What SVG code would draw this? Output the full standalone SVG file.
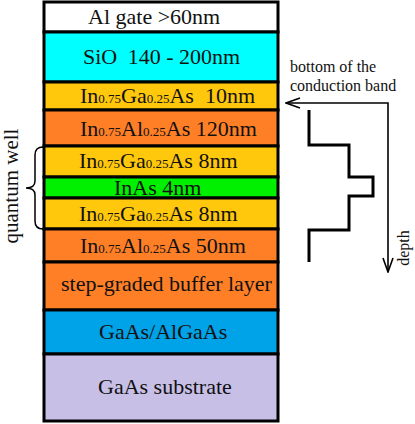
<svg xmlns="http://www.w3.org/2000/svg" width="415" height="424" viewBox="0 0 415 424">
<style>
.l{stroke:#000;stroke-width:3}
.t{font-family:"Liberation Serif","Times New Roman",serif;font-size:22px;fill:#111}
.s{font-size:13px}
.n{font-family:"Liberation Serif","Times New Roman",serif;font-size:16px;fill:#111}
.c{fill:none;stroke:#000}
</style>
<defs>
<marker id="ah" markerUnits="userSpaceOnUse" markerWidth="16" markerHeight="12" viewBox="0 0 16 12" refX="15" refY="6" orient="auto-start-reverse">
<path d="M1,1 L15,6 L1,11" fill="none" stroke="#000" stroke-width="1.6"/>
</marker>
</defs>
<rect width="415" height="424" fill="#fff"/>
<g id="al-gate"><rect class="l" x="44" y="2" width="234" height="30" fill="#fff"/><text class="t" x="88" y="24">Al gate &gt;60nm</text></g>
<g id="sio"><rect class="l" x="44" y="32" width="234" height="50" fill="#00FFFF"/><text class="t" x="83" y="64">SiO<tspan dx="5"> 140 - 200nm</tspan></text></g>
<g id="ingaas-10"><rect class="l" x="44" y="82" width="234" height="28" fill="#FFC80C"/><text class="t" x="80" y="103">In<tspan class="s">0.75</tspan>Ga<tspan class="s">0.25</tspan>As<tspan dx="5.5"> 10nm</tspan></text></g>
<g id="inalas-120"><rect class="l" x="44" y="110" width="234" height="36" fill="#FF7F27"/><text class="t" x="80" y="136">In<tspan class="s">0.75</tspan>Al<tspan class="s">0.25</tspan>As 120nm</text></g>
<g id="ingaas-8a"><rect class="l" x="44" y="146" width="234" height="31" fill="#FFC80C"/><text class="t" x="79" y="168">In<tspan class="s">0.75</tspan>Ga<tspan class="s">0.25</tspan>As 8nm</text></g>
<g id="inas"><rect class="l" x="44" y="177" width="234" height="21" fill="#00F000"/><text class="t" x="114" y="194.5">InAs 4nm</text></g>
<g id="ingaas-8b"><rect class="l" x="44" y="198" width="234" height="31" fill="#FFC80C"/><text class="t" x="79" y="220.5">In<tspan class="s">0.75</tspan>Ga<tspan class="s">0.25</tspan>As 8nm</text></g>
<g id="inalas-50"><rect class="l" x="44" y="229" width="234" height="33" fill="#FF7F27"/><text class="t" x="80" y="252.5">In<tspan class="s">0.75</tspan>Al<tspan class="s">0.25</tspan>As 50nm</text></g>
<g id="buffer"><rect class="l" x="44" y="262" width="234" height="48" fill="#FF7F27"/><text class="t" x="61" y="291">step-graded buffer layer</text></g>
<g id="gaas-algaas"><rect class="l" x="44" y="310" width="234" height="44" fill="#00A2E8"/><text class="t" x="99" y="339">GaAs/AlGaAs</text></g>
<g id="substrate"><rect class="l" x="44" y="354" width="234" height="67" fill="#C8BFE7"/><text class="t" x="98" y="394">GaAs substrate</text></g>
<g id="quantum-well-label"><text class="t" style="font-size:21px" text-anchor="middle" transform="translate(18,186) rotate(-90)">quantum well</text></g>
<g id="band-label"><text class="n" x="290" y="72">bottom of the</text><text class="n" x="290" y="91">conduction band</text></g>
<g id="depth-label"><text class="n" text-anchor="middle" transform="translate(409,248) rotate(-90)">depth</text></g>
<g id="connectors">
<path class="c" stroke-width="1.5" d="M43,147 Q35,147 35,155 L35,181 Q35,188 26,188 Q35,188 35,195 L35,221 Q35,229 43,229"/>
<path class="c" stroke-width="1.6" d="M286,103 L388,103 L388,272" marker-start="url(#ah)" marker-end="url(#ah)"/>
<path class="c" stroke-width="3" d="M309,110 V145 H349 V177 H373 V196 H349 V230 H309 V262"/>
</g>
</svg>
